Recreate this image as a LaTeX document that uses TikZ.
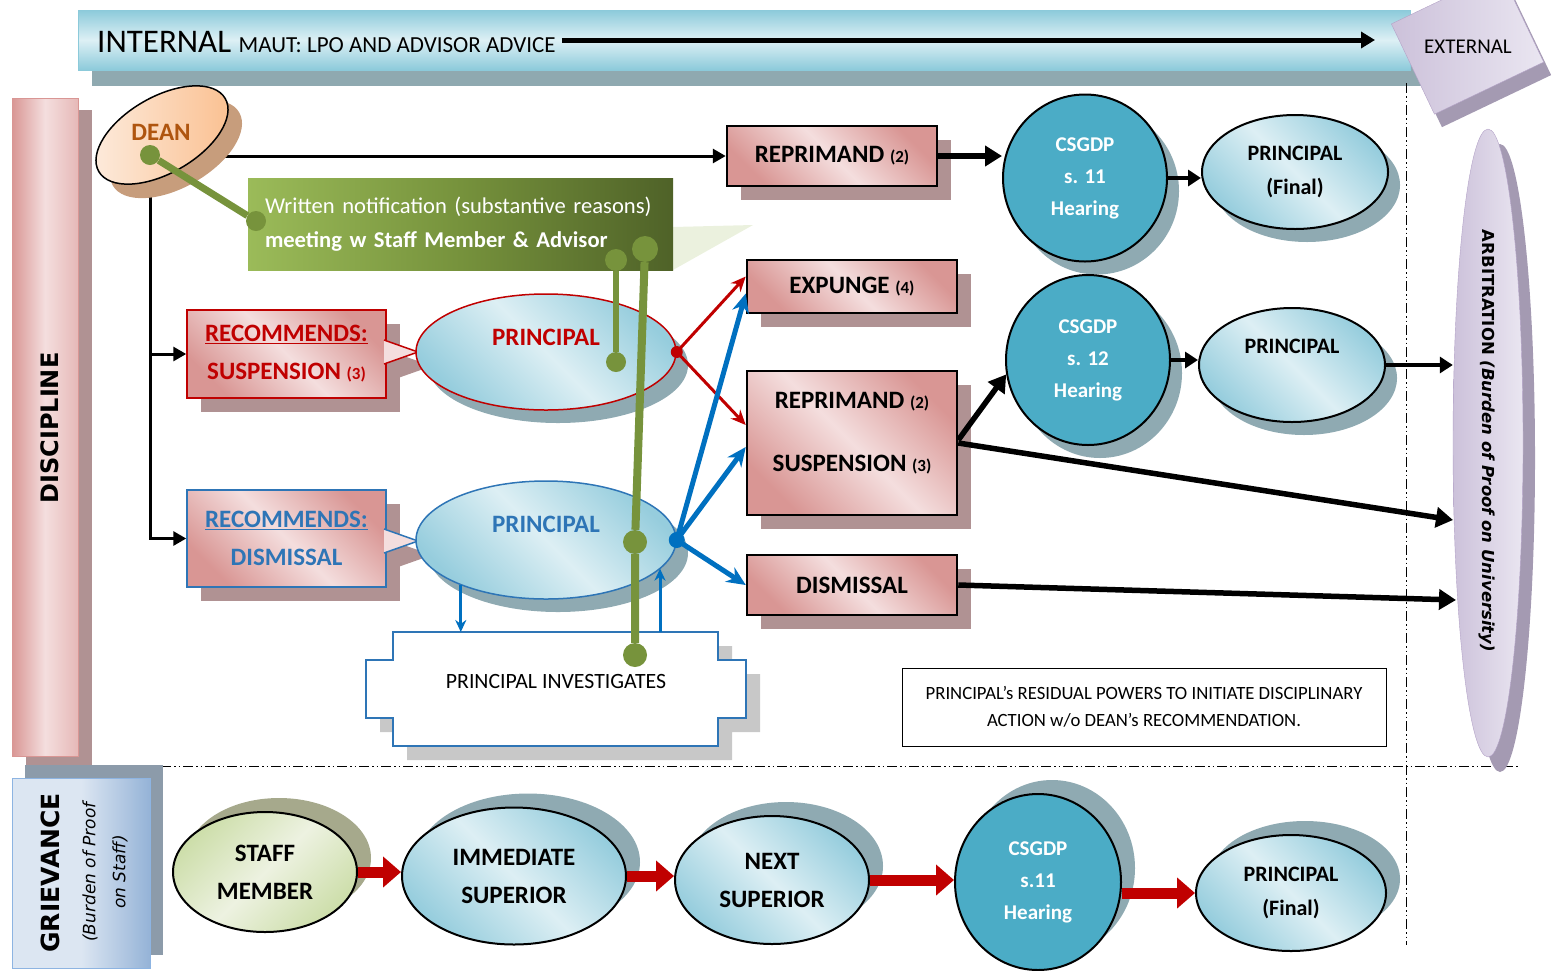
\documentclass[tikz,border=0pt]{standalone}
\usepackage{fontspec}
\setmainfont{Carlito}
\newfontfamily\verdfont{DejaVu Sans}
\usetikzlibrary{shapes.geometric,shadows,arrows.meta}
\pgfdeclarelayer{background}
\pgfsetlayers{background,main}

\definecolor{pinkd}{RGB}{217,150,148}
\definecolor{pinkm}{RGB}{230,185,184}
\definecolor{pinkl}{RGB}{244,222,222}
\definecolor{pinksh}{RGB}{176,146,147}
\definecolor{bluel}{RGB}{221,239,244}
\definecolor{blued}{RGB}{150,205,221}
\definecolor{bluesh}{RGB}{143,170,178}
\definecolor{csgc}{RGB}{75,172,198}
\definecolor{grnl}{RGB}{155,187,89}
\definecolor{grnm}{RGB}{118,146,60}
\definecolor{grnd}{RGB}{79,98,40}
\definecolor{grnline}{RGB}{119,147,60}
\definecolor{callpale}{RGB}{235,241,222}
\definecolor{redc}{RGB}{192,0,0}
\definecolor{bluec}{RGB}{0,112,192}
\definecolor{boxblue}{RGB}{46,117,182}
\definecolor{purl}{RGB}{234,230,241}
\definecolor{purd}{RGB}{204,193,218}
\definecolor{purb}{RGB}{179,162,199}
\definecolor{pursh}{RGB}{164,154,178}
\definecolor{deanl}{RGB}{253,236,222}
\definecolor{deand}{RGB}{250,191,143}
\definecolor{deansh}{RGB}{199,157,124}
\definecolor{deantxt}{RGB}{175,85,15}
\definecolor{staffl}{RGB}{237,242,225}
\definecolor{staffd}{RGB}{205,222,170}
\definecolor{staffsh}{RGB}{166,169,140}
\definecolor{griel}{RGB}{220,230,242}
\definecolor{gried}{RGB}{149,179,215}
\definecolor{grieb}{RGB}{141,180,226}
\definecolor{griesh}{RGB}{140,155,170}
\definecolor{bannl}{RGB}{221,240,245}
\definecolor{bannd}{RGB}{140,202,218}
\definecolor{bannsh}{RGB}{143,169,176}
\definecolor{invsh}{RGB}{200,200,200}

\newcommand{\numsz}[1]{{\fontsize{17}{20}\selectfont #1}}

\tikzset{
  lbl/.style={font=\fontsize{25}{38}\selectfont\bfseries, align=center},
  pinkshade/.style={left color=pinkd, right color=pinkd, middle color=pinkl, shading angle=-45},
  blueshade/.style={left color=blued, right color=blued, middle color=bluel, shading angle=-45},
  dshadow/.style={general shadow={fill=#1, shadow xshift=12pt, shadow yshift=-13pt}},
  ushadow/.style={general shadow={fill=#1, shadow xshift=14pt, shadow yshift=14pt}},
  banner/.style={rectangle, minimum width=1332pt, minimum height=60pt, draw=bannd,
    top color=bannd, bottom color=bannd, middle color=bannl,
    general shadow={fill=bannsh, shadow xshift=14pt, shadow yshift=-16pt}},
  discbar/.style={rectangle, minimum width=66pt, minimum height=658pt, draw=pinkd, line width=1pt,
    left color=pinkd, right color=pinkm, middle color=pinkl,
    general shadow={fill=pinksh, shadow xshift=14pt, shadow yshift=-12pt}},
  grvbar/.style={rectangle, minimum width=138pt, minimum height=190pt, draw=grieb, line width=1pt,
    left color=griel, right color=gried, middle color=griel,
    general shadow={fill=griesh, shadow xshift=13pt, shadow yshift=13pt}},
  extshape/.style={rectangle, minimum width=121pt, minimum height=100pt, inner sep=0pt},
  deanell/.style={ellipse, minimum width=146pt, minimum height=76pt, inner sep=0pt},
  callbox/.style={rectangle, minimum width=425pt, minimum height=92pt, text width=391pt,
    inner xsep=17pt, align=left, text=white, font=\fontsize{22.6}{34}\selectfont,
    left color=grnl, right color=grnd, middle color=grnm},
  pinkbox/.style={rectangle, draw=black, line width=2.5pt, pinkshade, minimum width=210pt,
    inner sep=0pt, lbl, general shadow={fill=pinksh, shadow xshift=14pt, shadow yshift=-14pt}},
  recbox/.style={rectangle, line width=1.5pt, pinkshade, minimum width=199pt,
    inner sep=0pt, lbl, general shadow={fill=pinksh, shadow xshift=14pt, shadow yshift=-14pt}},
  prinell/.style={ellipse, line width=1.5pt, blueshade, minimum width=260pt, inner sep=0pt,
    dshadow=bluesh},
  finalell/.style={ellipse, draw=black, line width=2pt, blueshade, inner sep=0pt, align=center,
    font=\fontsize{22}{34}\selectfont\bfseries},
  hearing/.style={ellipse, draw=black, line width=2pt, fill=csgc, text=white, inner sep=0pt,
    align=center, font=\fontsize{21}{32}\selectfont\bfseries},
  grvell/.style={ellipse, draw=black, line width=2pt, blueshade, inner sep=0pt, lbl},
  arbell/.style={ellipse, minimum width=70pt, minimum height=628pt, draw=purb, inner sep=0pt,
    left color=purd, right color=purl, general shadow={fill=pursh, shadow xshift=12pt, shadow yshift=-15pt}},
  ctl/.style={line width=3pt, -{Triangle[length=13pt,width=14pt]}},
  midarr/.style={line width=4pt, -{Triangle[length=13pt,width=16pt]}},
  fatarr/.style={line width=5.5pt, -{Triangle[length=17pt,width=20pt]}},
  redarr/.style={redc, line width=3pt, -{Stealth[length=15pt,width=13pt]}},
  bluarr/.style={bluec, line width=5pt, -{Stealth[length=19pt,width=17pt]}},
  thinblu/.style={bluec, line width=3pt, -{Stealth[length=12pt,width=11pt]}},
  redblk/.style={redc, line width=11pt, -{Triangle[length=18pt,width=30pt]}},
  gline/.style={grnline, line width=7pt},
  gdot/.style={circle, fill=grnline, inner sep=0pt, minimum size=#1},
  jdot/.style={circle, inner sep=0pt, minimum size=#1},
  sepline/.style={line width=1pt, dash pattern=on 10pt off 3pt on 1.5pt off 3pt on 1.5pt off 3pt},
}

\begin{document}
\begin{tikzpicture}[x=1pt,y=-1pt]
\useasboundingbox (0,0) rectangle (1554,970);
\clip (0,0) rectangle (1554,970);

% internal banner
\node[banner] (bann) at (744,40) {};
\node[anchor=base west, inner xsep=6pt, font=\fontsize{33}{36}\selectfont] (intl) at (91,52)
  {INTERNAL {\fontsize{23}{26}\selectfont MAUT: LPO AND ADVISOR ADVICE}};
\coordinate (bannend) at (1375,40);
\draw[line width=5pt, -{Triangle[length=14pt,width=16pt]}] (intl.east |- bannend) -- (bannend);

% separators
\draw[sepline] (1406,83) -- (1406,945);
\draw[sepline] (95,766) -- (1520,766);

% external
\node[extshape, fill=pursh, rotate=25.5] (extsh) at (1475,56) {};
\node[extshape, left color=purd, right color=purl, draw=purb, rotate=25.5] (ext) at (1467.5,43) {};
\node[font=\fontsize{21}{24}\selectfont] (extlbl) at (1468,47) {EXTERNAL};

% side bars
\node[discbar] (disc) at (45,427) {};
\node[rotate=90, font=\verdfont\fontsize{24}{26}\selectfont\bfseries] (disclbl) at (50,428) {DISCIPLINE};
\node[grvbar] (grv) at (81,873) {};
\node[rotate=90, font=\verdfont\fontsize{25}{28}\selectfont\bfseries] (grvlbl) at (50,873) {GRIEVANCE};
\node[rotate=90, align=center, font=\verdfont\fontsize{17}{30}\selectfont\itshape] (grvsub) at (105,872)
  {(Burden of Proof\\on Staff)};

% dean
\node[deanell, fill=deansh, rotate=30] (deanshd) at (176,149) {};
\node[deanell, draw=black, line width=1.5pt, left color=deanl, right color=deand, rotate=30] (dean) at (162,135) {};
\node[font=\fontsize{25}{28}\selectfont\bfseries, text=deantxt] (deanlbl) at (161,132) {DEAN};

% written notification
\fill[callpale] (673,227) -- (753,225) -- (673,270) -- cycle;
\node[callbox] (call) at (460.5,224)
  {Written notification (substantive reasons)\\\textbf{meeting w Staff Member \& Advisor}};

% recommendations
\node[recbox, draw=redc, text=redc, minimum height=88pt] (rsus) at (286.5,354)
  {\underline{RECOMMENDS:}\\SUSPENSION \numsz{(3)}};
\fill[pinksh] (398,354) -- (432,366) -- (398,378) -- cycle;
\filldraw[fill=pinkl, draw=redc, line width=1.5pt] (384,340) -- (418,352) -- (384,364);
\node[prinell, draw=redc, minimum height=116pt] (ps) at (546,352) {};
\node[lbl, text=redc] (pslbl) at (546,337) {PRINCIPAL};

\node[recbox, draw=boxblue, text=boxblue, minimum height=97pt] (rdis) at (286.5,538.5)
  {\underline{RECOMMENDS:}\\DISMISSAL};
\fill[pinksh] (398,543) -- (432,555) -- (398,567) -- cycle;
\filldraw[fill=pinkl, draw=boxblue, line width=1.5pt] (384,529) -- (418,541) -- (384,553);
\node[prinell, draw=boxblue, minimum height=118pt] (pd) at (546,540) {};
\node[lbl, text=boxblue] (pdlbl) at (546,524) {PRINCIPAL};

% principal investigates
\draw[fill=white, draw=boxblue, line width=2.5pt,
  general shadow={fill=invsh, shadow xshift=14pt, shadow yshift=-14pt}]
  (393,632) -- (718,632) -- (718,660) -- (746,660) -- (746,718) -- (718,718) -- (718,746)
  -- (393,746) -- (393,718) -- (366,718) -- (366,660) -- (393,660) -- cycle;
\node[font=\fontsize{21.8}{24}\selectfont] (inv) at (556,681) {PRINCIPAL INVESTIGATES};
\coordinate (invtop) at (556,632);
\coordinate (invup) at (660,632);

% outcomes
\node[pinkbox, minimum height=60pt] (rep) at (832,156) {REPRIMAND \numsz{(2)}};
\node[hearing, dshadow=bluesh, minimum width=164pt, minimum height=167pt] (cs11) at (1085,178)
  {CSGDP\\s. 11\\Hearing};
\node[finalell, dshadow=bluesh, minimum width=186pt, minimum height=114pt] (pf) at (1295,172)
  {PRINCIPAL\\(Final)};
\node[pinkbox, minimum height=53pt] (exp) at (852,286.5) {EXPUNGE \numsz{(4)}};
\node[pinkbox, minimum height=144pt] (rs) at (852,443)
  {REPRIMAND \numsz{(2)}\\[25pt]SUSPENSION \numsz{(3)}\\[-16pt]\mbox{}};
\node[pinkbox, minimum height=60pt] (dis) at (852,585) {DISMISSAL};
\node[hearing, dshadow=bluesh, minimum width=164pt, minimum height=170pt] (cs12) at (1088,360)
  {CSGDP\\s. 12\\Hearing};
\node[finalell, dshadow=bluesh, minimum width=186pt, minimum height=114pt] (pm) at (1292,365)
  {PRINCIPAL\\\phantom{(Final)}};

% arbitration
\node[arbell] (arb) at (1488,443) {};
\node[rotate=-90, font=\verdfont\fontsize{16.5}{20}\selectfont\bfseries] (arblbl) at (1487,441)
  {ARBITRATION \textit{(Burden of Proof on University)}};
\coordinate (arbin1) at (1453,520);
\coordinate (arbin2) at (1456,600);

\node[draw=black, line width=1pt, minimum width=484pt, minimum height=78pt, align=center,
  font=\fontsize{18.7}{27}\selectfont] (note) at (1144,707)
  {PRINCIPAL’s RESIDUAL POWERS TO INITIATE DISCIPLINARY\\ACTION w/o DEAN’s RECOMMENDATION.};

% black connectors
\draw[fatarr] (rep.east) -- (rep.east -| cs11.west);
\draw[midarr] (cs11.east) -- (cs11.east -| pf.west);
\draw[fatarr] ([yshift=3pt]rs.east) -- (cs12.190);
\draw[midarr] (cs12.east) -- (cs12.east -| pm.west);
\draw[midarr] (pm.east) -- (pm.east -| arb.west);
\draw[fatarr] (rs.east) -- (arbin1);
\draw[fatarr] (dis.east) -- (arbin2);

% principal decisions
\draw[redarr] (ps.east) -- ([yshift=10pt]exp.west);
\draw[redarr] (ps.east) -- ([yshift=18pt]rs.west);
\node[jdot=12pt, fill=redc] (rjun) at (ps.east) {};
\draw[bluarr] (pd.east) -- ([yshift=-7pt]exp.west);
\draw[bluarr] (pd.east) -- ([yshift=-4pt]rs.west);
\draw[bluarr] (pd.east) -- (dis.west);
\node[jdot=16pt, fill=bluec] (bjun) at (pd.east) {};
\draw[thinblu] (pd.-152) -- (pd.-152 |- invtop);
\draw[thinblu] (invup) -- (invup |- pd.-14);

% green links
\node[gdot=20pt] (g1) at (150,155) {};
\node[gdot=20pt] (g2) at (256,221) {};
\node[gdot=22pt] (g3) at (616,260) {};
\node[gdot=20pt] (g4) at (616,362) {};
\node[gdot=26pt] (g5) at (645,249) {};
\node[gdot=24pt] (g6) at (635,542) {};
\node[gdot=24pt] (g7) at (635,655) {};
\draw[gline] (g1) -- (g2);
\draw[gline, line width=6pt] (g3) -- (g4);
\draw[gline, line width=8pt] (g5) -- (g6) -- (g7);

% grievance
\node[grvell, left color=staffd, right color=staffd, middle color=staffl, shading angle=45, ushadow=staffsh,
  minimum width=184pt, minimum height=120pt] (sm) at (265,872) {STAFF\\MEMBER};
\node[grvell, ushadow=bluesh, minimum width=224pt, minimum height=137pt] (is) at (514,876) {IMMEDIATE\\SUPERIOR};
\node[grvell, ushadow=bluesh, minimum width=194pt, minimum height=128pt] (ns) at (772,880) {NEXT\\SUPERIOR};
\node[hearing, ushadow=bluesh, minimum width=166pt, minimum height=176pt] (cs11b) at (1038,882)
  {CSGDP\\s.11\\Hearing};
\node[finalell, ushadow=bluesh, minimum width=190pt, minimum height=116pt] (pfb) at (1291,893)
  {PRINCIPAL\\(Final)};
\draw[redblk] (sm.east) -- (sm.east -| is.west);
\draw[redblk] (is.east) -- (is.east -| ns.west);
\draw[redblk] (ns.east) -- (ns.east -| cs11b.west);
\draw[redblk] (cs11b.east |- pfb.west) -- (pfb.west);

\begin{pgfonlayer}{background}
\draw[ctl] (dean.center |- rep.west) -- (rep.west);
\draw[ctl] ([xshift=-12pt]dean.center) |- (rsus.west);
\draw[ctl] ([xshift=-12pt]dean.center) |- (rdis.west);
\end{pgfonlayer}
\end{tikzpicture}
\end{document}
